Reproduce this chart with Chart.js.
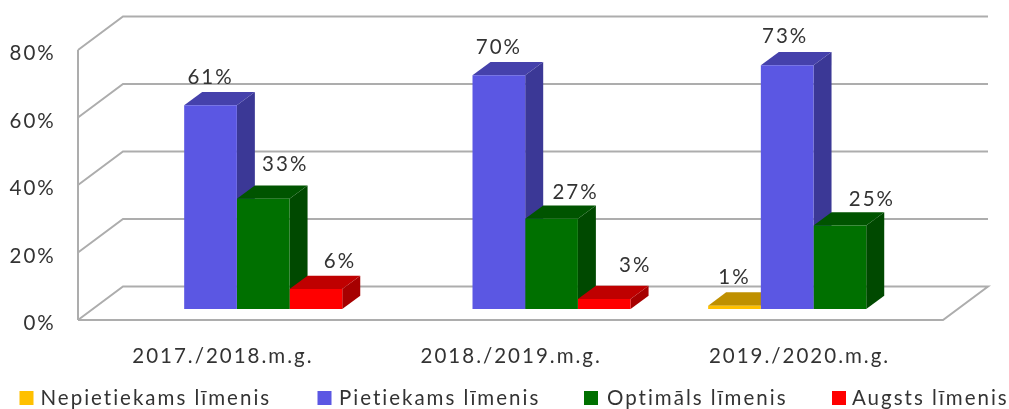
<!DOCTYPE html>
<html><head><meta charset="utf-8">
<style>html,body{margin:0;padding:0;background:#fff}canvas{display:block;filter:blur(0.45px)}</style>
<script src="https://cdn.jsdelivr.net/npm/chart.js@4"></script>
</head><body>
<div style="width:1009px;height:409px"><canvas id="c" width="1009" height="409"></canvas></div>
<script>
const categories = ['2017./2018.m.g.', '2018./2019.m.g.', '2019./2020.m.g.'];
const seriesNames = ['Nepietiekams līmenis', 'Pietiekams līmenis', 'Optimāls līmenis', 'Augsts līmenis'];
const nepietiekams = [null, null, 1];
const pietiekams = [61, 70, 73];
const optimals = [33, 27, 25];
const augsts = [6, 3, null];
const axisTicks = [0, 20, 40, 60, 80];

const faceColors = ['#FFC000', '#5B57E3', '#007000', '#FF0000'];
const topColors = ['#BF9000', '#4541AB', '#005400', '#BF0000'];
const sideColors = ['#A67D00', '#3B3896', '#004900', '#A60000'];
const seriesData = [nepietiekams, pietiekams, optimals, augsts];

const FONT = 'Lato, sans-serif', FS = 20.5, SPACING = '2px', TEXT = '#333333';
const WALL_DX = 14.7, BACK_DX = 45, BACK_DY = 33.5, BAR_DX = 18, BAR_DY = 13.3;
// label nudges per series / category: [dx, dy] from the bar's back-top centre
const nudge = [
  [[0,0],[0,0],[0,-15]],
  [[0,-15],[0,-15],[-2,-15]],
  [[22,-21],[24,-13],[32,-13]],
  [[24,-14],[31,-20],[0,0]]
];
const legendBoxX = [19.5, 317.5, 584, 832];
const legendTextX = [40.5, 339, 607, 852];

const frame3d = {
  id: 'frame3d',
  beforeDraw(chart) { chart.ctx.letterSpacing = SPACING; },
  beforeDatasetsDraw(chart) {
    const {ctx, chartArea: a, scales: {y}} = chart;
    const L = a.left - WALL_DX, R = a.right - WALL_DX;
    ctx.save();
    ctx.strokeStyle = '#adadad'; ctx.lineWidth = 2; ctx.lineJoin = 'miter';
    axisTicks.forEach(v => {
      const p = y.getPixelForValue(v);
      ctx.beginPath();
      ctx.moveTo(L, p);
      ctx.lineTo(L + BACK_DX, p - BACK_DY);
      ctx.lineTo(R + BACK_DX, p - BACK_DY);
      if (v === 0) ctx.lineTo(R, p);
      if (v === 0) ctx.lineTo(L, p);
      ctx.stroke();
    });
    ctx.beginPath();
    ctx.moveTo(L, y.getPixelForValue(axisTicks[axisTicks.length - 1]));
    ctx.lineTo(L, y.getPixelForValue(0));
    ctx.stroke();
    // side and top faces, left to right; the library then paints the front faces over them
    chart.data.labels.forEach((_, k) => {
      seriesData.forEach((vals, i) => {
        if (vals[k] == null) return;
        const bar = chart.getDatasetMeta(i).data[k];
        const {x, y: top, base, width} = bar.getProps(['x', 'y', 'base', 'width'], true);
        const l = x - width / 2, r = x + width / 2;
        ctx.fillStyle = sideColors[i];
        ctx.beginPath();
        ctx.moveTo(r, top); ctx.lineTo(r + BAR_DX, top - BAR_DY);
        ctx.lineTo(r + BAR_DX, base - BAR_DY); ctx.lineTo(r, base);
        ctx.closePath(); ctx.fill();
        ctx.fillStyle = topColors[i];
        ctx.beginPath();
        ctx.moveTo(l, top); ctx.lineTo(l + BAR_DX, top - BAR_DY);
        ctx.lineTo(r + BAR_DX, top - BAR_DY); ctx.lineTo(r, top);
        ctx.closePath(); ctx.fill();
      });
    });
    ctx.restore();
  },
  afterDatasetsDraw(chart) {
    const {ctx} = chart;
    ctx.save();
    ctx.font = FS + 'px ' + FONT; ctx.fillStyle = TEXT;
    ctx.textAlign = 'center'; ctx.textBaseline = 'middle';
    chart.data.datasets.forEach((ds, i) => {
      chart.getDatasetMeta(i).data.forEach((bar, k) => {
        const v = ds.data[k];
        if (v == null) return;
        const n = nudge[i][k];
        ctx.fillText(v + '%', bar.x + n[0], bar.y - BAR_DY + n[1]);
      });
    });
    // legend
    ctx.textAlign = 'left';
    chart.data.datasets.forEach((ds, i) => {
      ctx.fillStyle = ds.backgroundColor;
      ctx.fillRect(legendBoxX[i], 391, 14, 14);
      ctx.fillStyle = TEXT;
      ctx.fillText(ds.label, legendTextX[i], 398);
    });
    ctx.restore();
  }
};

new Chart(document.getElementById('c'), {
  type: 'bar',
  data: {
    labels: categories,
    datasets: seriesNames.map((name, i) => ({
      label: name,
      data: seriesData[i],
      backgroundColor: faceColors[i],
      yAxisID: 'yBar',
      clip: false,
      barPercentage: 1,
      categoryPercentage: 0.731
    }))
  },
  options: {
    responsive: false,
    animation: false,
    layout: {padding: {top: 50, right: 51.3, left: 0, bottom: 0}},
    plugins: {legend: {display: false}, tooltip: {enabled: false}},
    scales: {
      x: {
        grid: {display: false, drawTicks: false},
        border: {display: false},
        afterFit: s => { s.height = 89; },
        ticks: {font: {family: FONT, size: FS}, color: TEXT, padding: 24, labelOffset: -14, maxRotation: 0, autoSkip: false}
      },
      y: {
        min: 0, max: 80,
        grid: {display: false, drawTicks: false},
        border: {display: false},
        afterFit: s => { s.width = 92.7; },
        afterBuildTicks: s => { s.ticks = axisTicks.map(v => ({value: v})); },
        ticks: {font: {family: FONT, size: FS}, color: TEXT, padding: 37, labelOffset: 3.5, callback: v => v + '%'}
      },
      yBar: {display: false, min: -3.293, max: 77.547}
    }
  },
  plugins: [frame3d]
});
</script>
</body></html>
